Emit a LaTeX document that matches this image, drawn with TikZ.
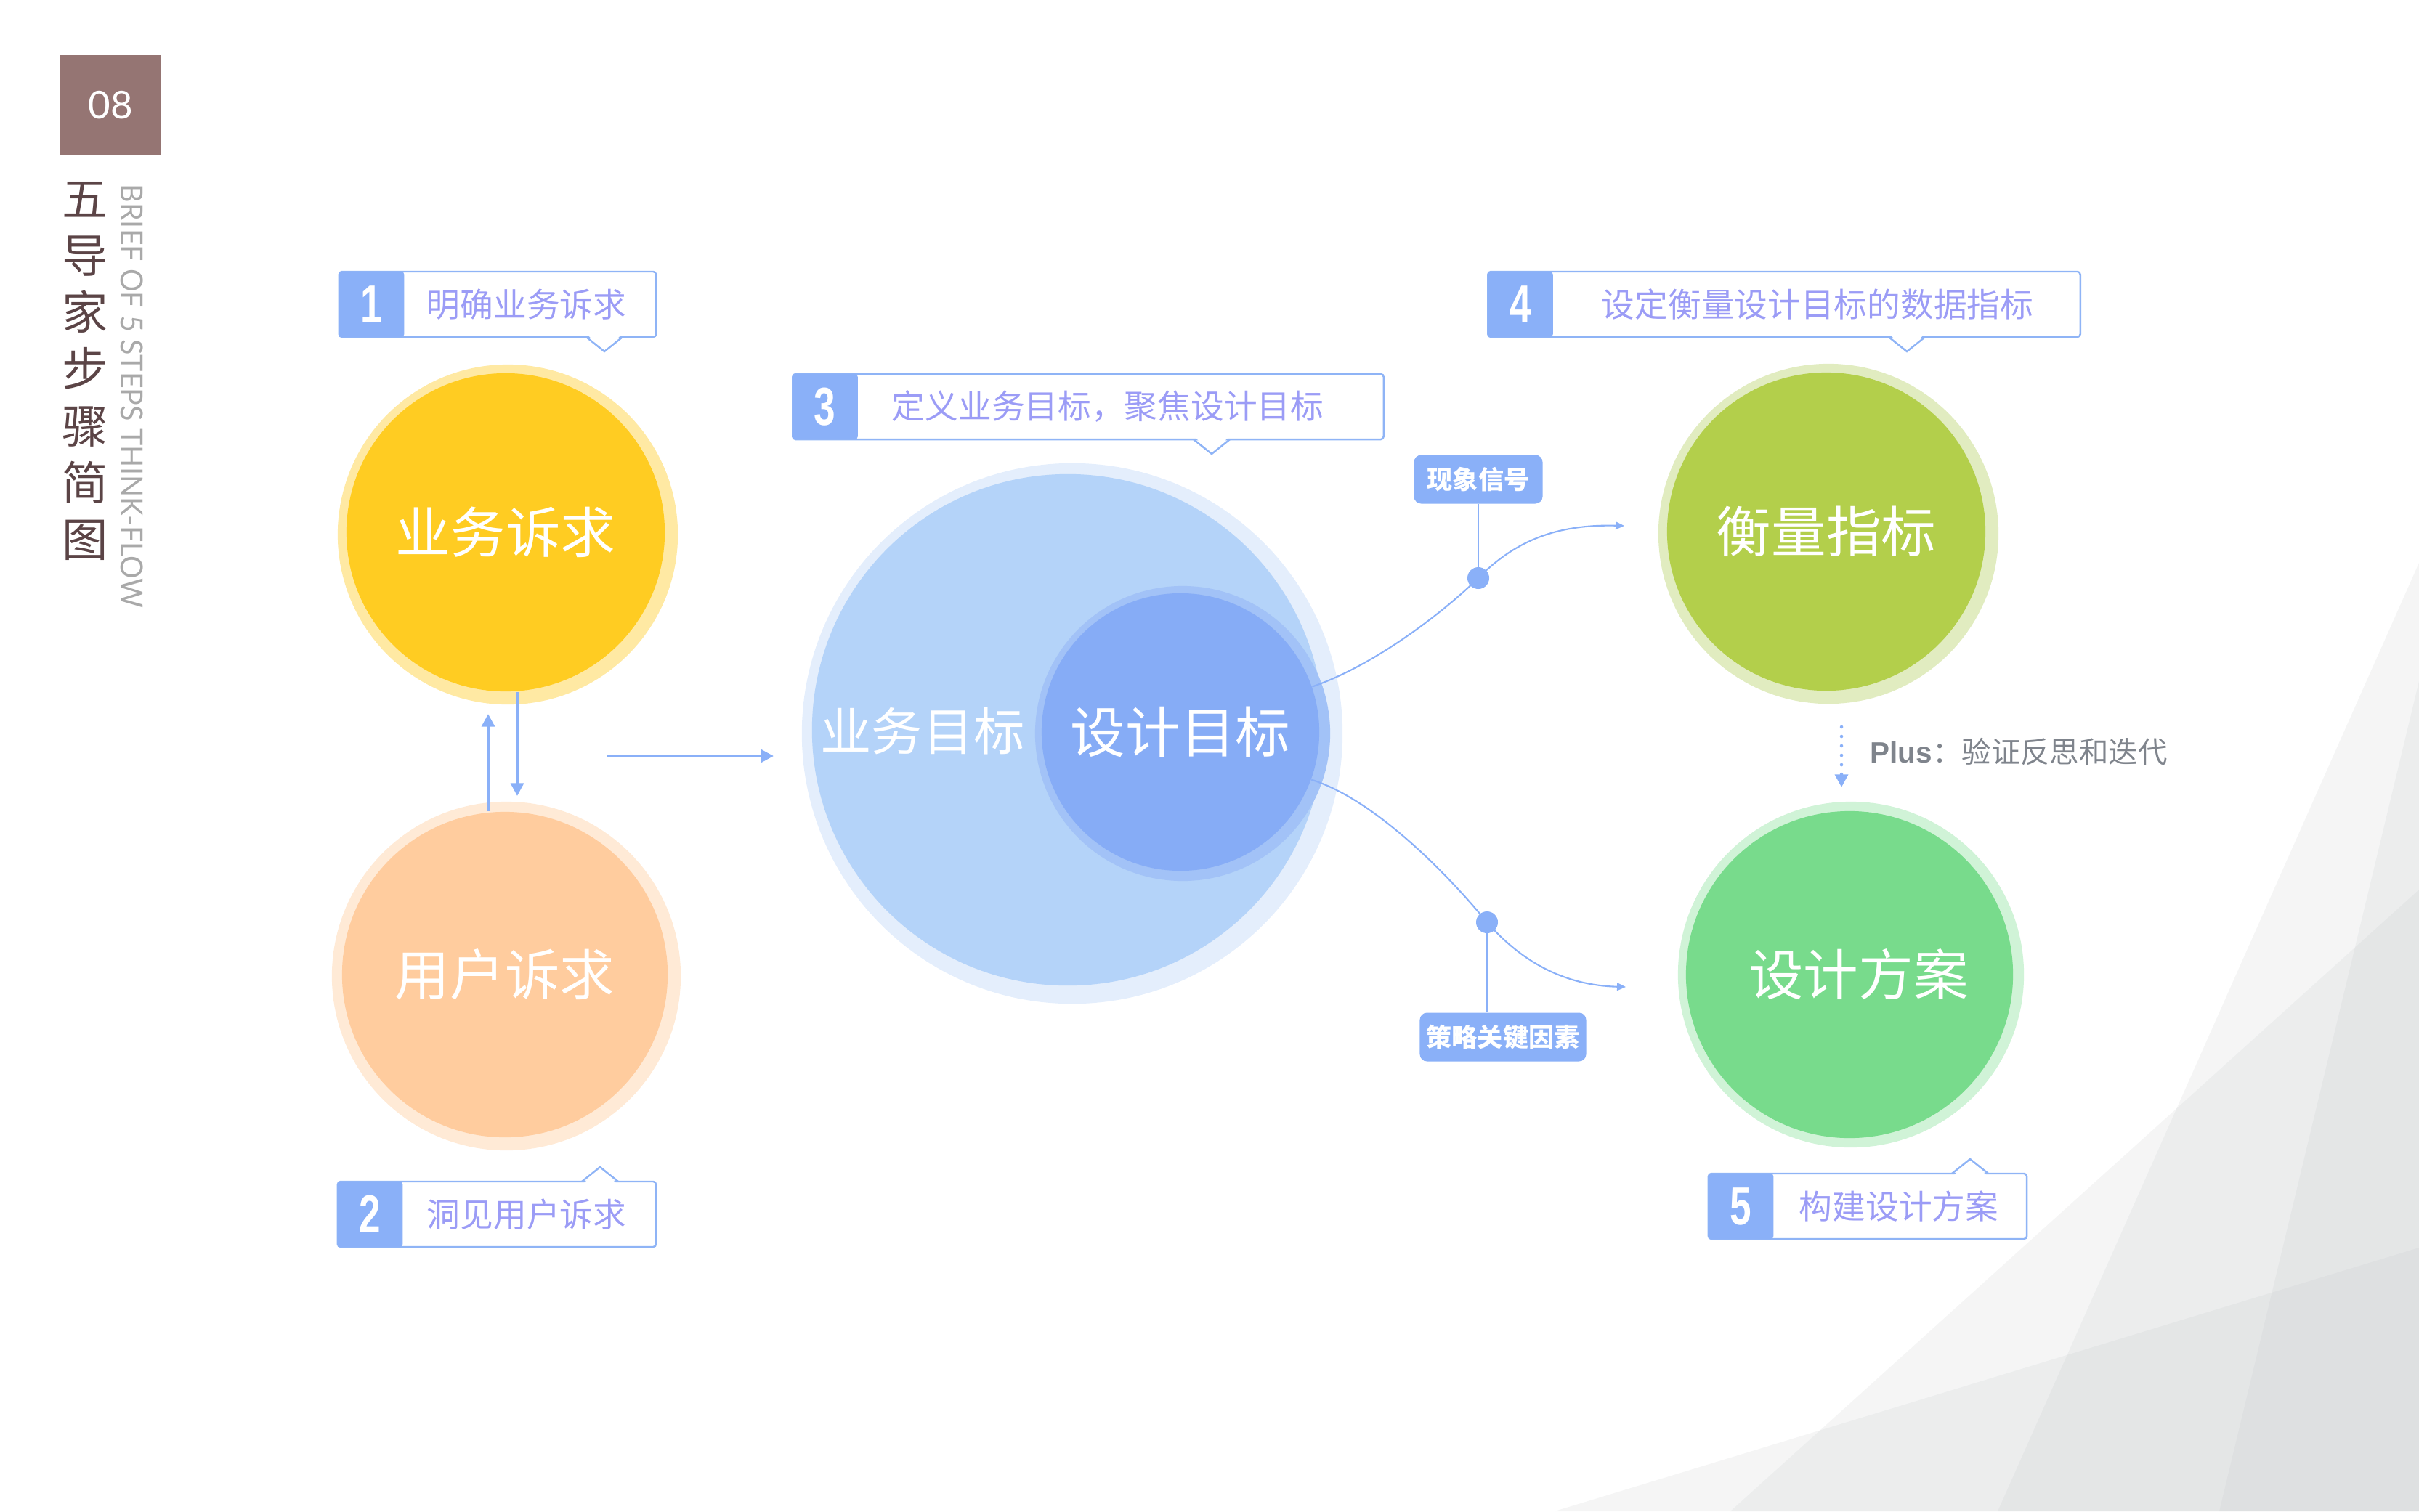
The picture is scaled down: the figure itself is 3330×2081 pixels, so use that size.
\documentclass[tikz,border=0pt]{standalone}
\usepackage{fontspec}
\usepackage{graphicx}
\setmainfont{Lato}
\newfontfamily\cjk{Noto Sans CJK SC}
\newfontfamily\digitfont{Liberation Sans}
\usetikzlibrary{arrows.meta, positioning, calc}
\definecolor{cbrown}{HTML}{957573}
\definecolor{cdark}{HTML}{5B4446}
\definecolor{cgrey}{HTML}{A9A9A9}
\definecolor{cblue}{HTML}{8AB0F8}
\definecolor{cline}{HTML}{8FB4F6}
\definecolor{cviolet}{HTML}{9B9CF6}
\definecolor{cyellow}{HTML}{FFCC22}
\definecolor{cyellowl}{HTML}{FFE9A3}
\definecolor{cpeach}{HTML}{FFCC9E}
\definecolor{cpeachl}{HTML}{FFEAD6}
\definecolor{csky}{HTML}{B4D3F9}
\definecolor{cskyl}{HTML}{E4EEFC}
\definecolor{cmid}{HTML}{86ACF6}
\definecolor{cmidl}{HTML}{A2C2F7}
\definecolor{clime}{HTML}{B3CF4B}
\definecolor{climel}{HTML}{E1ECC0}
\definecolor{cgreen}{HTML}{78DB8C}
\definecolor{cgreenl}{HTML}{D0F3D7}
\definecolor{ctext}{HTML}{7F848C}
\definecolor{cfacet}{HTML}{B9BDBF}
\tikzset{
  halo/.style={circle, fill=#1, inner sep=0pt},
  disc/.style={circle, fill=#1, inner sep=0pt, text=white, font=\cjk\fontsize{21.5pt}{24pt}\selectfont},
  disctext/.style={inner sep=0pt, text=white, font=\cjk\fontsize{20pt}{24pt}\selectfont},
  facet/.style={fill=cfacet, fill opacity=0.15},
  numbox/.style={fill=cbrown, minimum size=1.38cm, inner sep=0pt, text=white, font=\fontsize{15pt}{18pt}\selectfont},
  vtitle/.style={inner sep=0pt, align=center, text=cdark, font=\cjk\fontsize{18pt}{22.2pt}\selectfont},
  vsub/.style={inner sep=0pt, text=cgrey, font=\fontsize{12pt}{14pt}\selectfont},
  flow/.style={-{Triangle[length=5pt, width=5pt]}, draw=cblue, line width=1.15pt},
  link/.style={-{Triangle[length=3.4pt, width=3pt]}, draw=cblue, line width=0.6pt},
  stem/.style={draw=cblue, line width=0.6pt},
  dot/.style={circle, fill=cblue, minimum size=0.3cm, inner sep=0pt},
  dotflow/.style={-{Triangle[length=5pt, width=5pt]}, draw=cblue, line width=1.3pt, dash pattern=on 0pt off 3.7pt, line cap=round},
  tagbox/.style={fill=cblue, rounded corners=0.1cm, minimum height=0.67cm, inner sep=0pt, text=white, font=\cjk\bfseries\fontsize{10pt}{12pt}\selectfont},
  callout/.style={draw=cline, fill=white, line width=0.7pt, rounded corners=0.04cm, minimum height=0.9cm, inner sep=0pt},
  numsq/.style={fill=cblue, rounded corners=0.04cm, minimum width=0.9cm, minimum height=0.9cm, inner sep=0pt, text=white, font=\digitfont\bfseries\fontsize{21pt}{24pt}\selectfont},
  calltext/.style={inner sep=0pt, text=cviolet, font=\cjk\fontsize{13pt}{15pt}\selectfont},
  plusnote/.style={inner sep=0pt, text=ctext, font=\cjk\fontsize{11.5pt}{14pt}\selectfont},
}
\begin{document}
\begin{tikzpicture}[x=0.01cm, y=-0.01cm]
  \useasboundingbox (0,0) rectangle (3330,2081);
  % faint facets in the corner
  \fill[facet] (3330,775) -- (2750,2081) -- (3330,2081) -- cycle;
  \fill[facet] (3330,938) -- (3055,2081) -- (3330,2081) -- cycle;
  \fill[facet] (3330,1225) -- (2382,2081) -- (3330,2081) -- cycle;
  \fill[facet] (3330,1718) -- (2140,2081) -- (3330,2081) -- cycle;
  % header
  \node[numbox] (page) at (152,145) {08};
  \node[vtitle, anchor=north] (title) at (117,250) {五\\导\\家\\步\\骤\\简\\图};
  \node[vsub, rotate=-90, anchor=west] (subtitle) at (182,253) {\scalebox{0.935}[1]{BRIEF OF 5 STEPS THINK-FLOW}};
  % circles
  \node[halo=cyellowl, minimum size=4.68cm] (bizhalo) at (699,736) {};
  \node[disc=cyellow, minimum size=4.38cm] (biz) at (696,733) {业务诉求};
  \node[halo=cpeachl, minimum size=4.8cm] (userhalo) at (697,1344) {};
  \node[disc=cpeach, minimum size=4.48cm] (user) at (695,1342) {用户诉求};
  \node[halo=cskyl, minimum size=7.44cm] (skyhalo) at (1476,1010) {};
  \node[disc=csky, minimum size=7.04cm] (sky) at (1470,1005) {};
  \node[disctext] (bizgoal) at (1270,1007) {业务目标};
  \node[halo=cmidl, minimum size=4.06cm] (goalhalo) at (1628,1010) {};
  \node[disc=cmid, minimum size=3.82cm] (goal) at (1625,1008) {设计目标};
  \node[halo=climel, minimum size=4.68cm] (metrichalo) at (2517,735) {};
  \node[disc=clime, minimum size=4.38cm] (metric) at (2514,732) {衡量指标};
  \node[halo=cgreenl, minimum size=4.76cm] (planhalo) at (2548,1342) {};
  \node[disc=cgreen, minimum size=4.5cm] (plan) at (2546,1342) {\hspace*{0.25cm}设计方案};
  % arrows on the left
  \coordinate (downend) at (712,1096);
  \coordinate (upend) at (672,983);
  \coordinate (joinstart) at (836,1041);
  \coordinate (joinend) at (1065,1041);
  \draw[flow] (biz.south -| downend) -- (downend);
  \draw[flow] (user.north -| upend) -- (upend);
  \draw[flow] (joinstart) -- (joinend);
  % branches to the right
  \coordinate (sigpt) at (2035,796);
  \coordinate (keypt) at (2047,1270);
  \coordinate (sigend) at (2236,724);
  \coordinate (keyend) at (2238,1359);
  \draw[link] (goal.19) .. controls (1890,917) and (1985,845) .. (sigpt) .. controls (2090,740) and (2150,722) .. (sigend);
  \draw[link] (goal.-20) .. controls (1890,1100) and (1990,1200) .. (keypt) .. controls (2100,1330) and (2160,1357) .. (keyend);
  \node[tagbox, minimum width=1.77cm] (sig) at (2035,660) {现象信号};
  \node[tagbox, minimum width=2.29cm] (key) at (2069,1428) {策略关键因素};
  \draw[stem] (sig.south -| sigpt) -- (sigpt);
  \draw[stem] (key.north -| keypt) -- (keypt);
  \node[dot] (sigdot) at (sigpt) {};
  \node[dot] (keydot) at (keypt) {};
  % plus step
  \coordinate (plustop) at (2535,1001);
  \coordinate (plusend) at (2535,1084);
  \draw[dotflow] (plustop) -- (plusend);
  \node[plusnote, anchor=west] (plus) at (2574,1035) {{\digitfont\bfseries Plus}：验证反思和迭代};
  % numbered callouts
  \foreach \n/\cx/\cy/\w/\tx/\txt/\px/\pd in {
      1/685/419/4.36/725/明确业务诉求/832/1,
      2/684/1672/4.38/725/洞见用户诉求/826/-1,
      3/1498/560/8.13/1525/定义业务目标，聚焦设计目标/1668/1,
      4/2456/419/8.15/2502/设定衡量设计目标的数据指标/2625/1,
      5/2571/1661/4.38/2614/构建设计方案/2712/-1}{
    \node[callout, minimum width=\w cm] (box\n) at (\cx,\cy) {};
    \fill[white] ({\px-24},{\cy+\pd*41}) -- (\px,{\cy+\pd*65}) -- ({\px+24},{\cy+\pd*41}) -- cycle;
    \draw[cline, line width=0.7pt] ({\px-25},{\cy+\pd*45}) -- (\px,{\cy+\pd*65}) -- ({\px+25},{\cy+\pd*45});
    \node[numsq, anchor=west] (num\n) at (box\n.west) {\scalebox{0.72}[1]{\n}};
    \node[calltext] (text\n) at (\tx,\cy) {\txt};
  }
\end{tikzpicture}
\end{document}
